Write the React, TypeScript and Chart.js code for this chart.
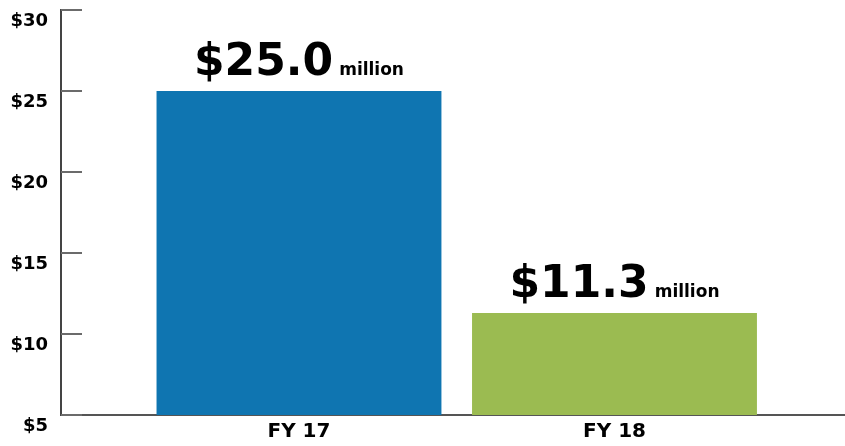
import React, { useEffect, useRef } from "react";
import { Chart, registerables } from "chart.js";

Chart.register(...registerables);

const categories = ["FY 17", "FY 18"];
const values = [25.0, 11.3];
const valueLabels = ["$25.0", "$11.3"];
const unitLabel = "million";
const barColors = ["#0F75B1", "#9BBB51"];
const yMin = 5;
const yMax = 30;
const yStep = 5;

const FONT = "'DejaVu Sans', 'Liberation Sans', sans-serif";

const innerTicks = {
  id: "innerTicks",
  afterDraw(chart: any) {
    const y = chart.scales.y;
    const ctx = chart.ctx;
    const left = chart.chartArea.left;
    ctx.save();
    ctx.strokeStyle = "#6b6b6b";
    ctx.lineWidth = 2;
    y.ticks.forEach((t: any) => {
      const py = Math.round(y.getPixelForValue(t.value));
      ctx.beginPath();
      ctx.moveTo(left, py);
      ctx.lineTo(left + 21, py);
      ctx.stroke();
    });
    ctx.restore();
  },
};

const valueLabelPlugin = {
  id: "valueLabels",
  afterDatasetsDraw(chart: any) {
    const ctx = chart.ctx;
    const meta = chart.getDatasetMeta(0);
    ctx.save();
    ctx.fillStyle = "#000";
    ctx.textBaseline = "alphabetic";
    meta.data.forEach((bar: any, i: number) => {
      const big = valueLabels[i];
      ctx.font = `bold 44px ${FONT}`;
      const wBig = ctx.measureText(big).width;
      ctx.font = `bold 17px ${FONT}`;
      const wSmall = ctx.measureText(unitLabel).width;
      const gap = 6;
      const total = wBig + gap + wSmall;
      const x0 = bar.x - total / 2;
      const base = bar.y - 16;
      ctx.textAlign = "left";
      ctx.font = `bold 44px ${FONT}`;
      ctx.fillText(big, x0, base);
      ctx.font = `bold 17px ${FONT}`;
      ctx.fillText(unitLabel, x0 + wBig + gap, base);
    });
    ctx.restore();
  },
};

export default function App() {
  const ref = useRef<HTMLCanvasElement | null>(null);

  useEffect(() => {
    if (!ref.current) return;
    const chart = new Chart(ref.current, {
      type: "bar",
      data: {
        datasets: [
          {
            data: values.map((v, i) => ({ x: i + 1, y: v })),
            backgroundColor: barColors,
            borderWidth: 0,
            categoryPercentage: 1,
            barPercentage: 0.903,
            base: yMin,
          } as any,
        ],
      },
      options: {
        animation: false,
        responsive: true,
        maintainAspectRatio: false,
        layout: { padding: { top: 10, left: 0, right: 0, bottom: 0 } },
        plugins: {
          legend: { display: false },
          tooltip: { enabled: false },
        },
        scales: {
          x: {
            type: "linear",
            offset: false,
            min: 0.2457,
            max: 2.7306,
            grid: { display: false, drawTicks: false, offset: false },
            border: { display: true, color: "#555", width: 2 },
            afterBuildTicks: (scale: any) => {
              scale.ticks = categories.map((_, i) => ({ value: i + 1 }));
            },
            afterFit: (scale: any) => {
              scale.height = 31;
              scale.paddingLeft = 0;
              scale.paddingRight = 0;
            },
            ticks: {
              autoSkip: false,
              maxRotation: 0,
              padding: 5,
              color: "#000",
              font: { family: FONT, weight: "bold", size: 20 },
              callback: (v: any) => categories[Math.round(Number(v)) - 1] ?? "",
            },
          },
          y: {
            min: yMin,
            max: yMax,
            grid: { display: false, drawTicks: false },
            border: { display: true, color: "#444", width: 2 },
            afterFit: (scale: any) => {
              scale.width = 61;
              scale.paddingTop = 0;
              scale.paddingBottom = 0;
            },
            ticks: {
              stepSize: yStep,
              padding: 13,
              labelOffset: 11,
              color: "#000",
              font: { family: FONT, weight: "bold", size: 18 },
              callback: (v: any) => "$" + v,
            },
          },
        },
      },
      plugins: [innerTicks, valueLabelPlugin],
    });
    return () => chart.destroy();
  }, []);

  return (
    <div style={{ position: "fixed", left: 0, top: 0, width: 845, height: 446, background: "#fff" }}>
      <canvas ref={ref} />
    </div>
  );
}
